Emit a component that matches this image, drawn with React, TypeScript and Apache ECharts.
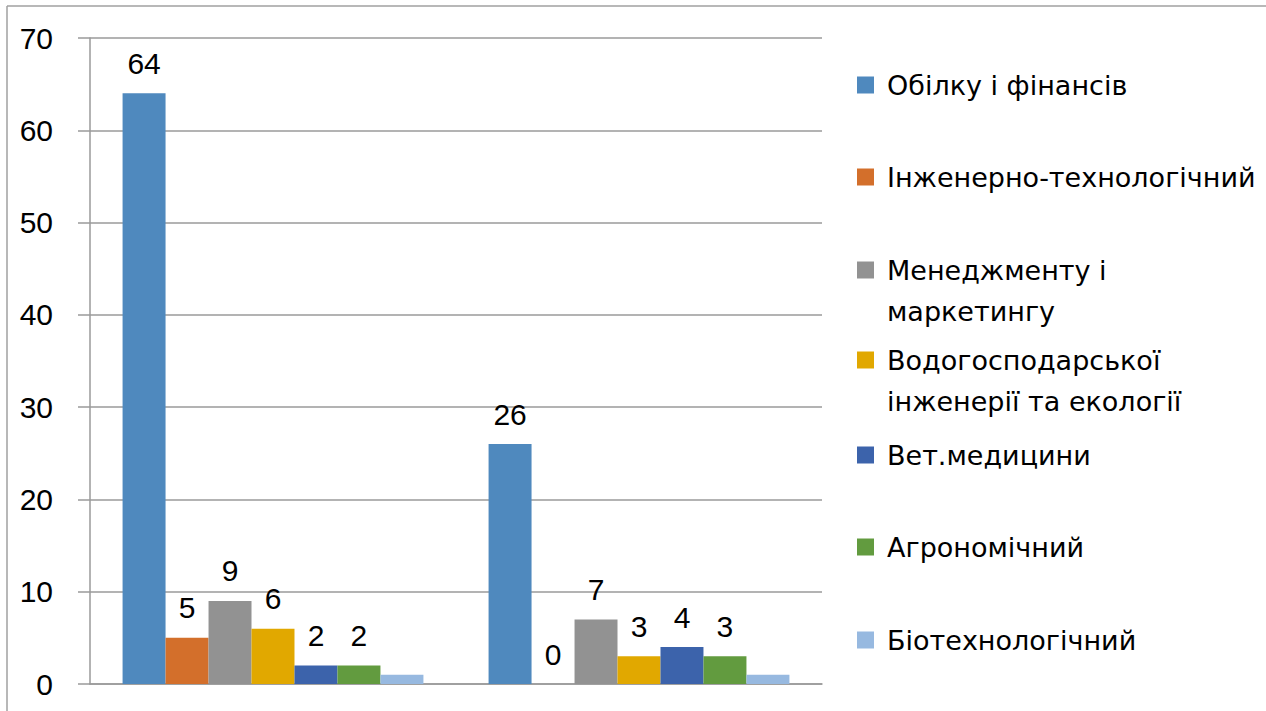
import React, { useEffect, useRef } from "react";
import * as echarts from "echarts";

const categories = ["1", "2"];
const seriesNames = [
  "Обілку і фінансів",
  "Інженерно-технологічний",
  "Менеджменту і\nмаркетингу",
  "Водогосподарської\nінженерії та екології",
  "Вет.медицини",
  "Агрономічний",
  "Біотехнологічний",
];
const seriesValues = [
  [64, 26],
  [5, 0],
  [9, 7],
  [6, 3],
  [2, 4],
  [2, 3],
  [1, 1],
];
const showLabels = [true, true, true, true, true, true, false];
const colors = ["#4F89BE", "#D36F2B", "#929292", "#E1A800", "#3C63AB", "#629B3F", "#97B9E0"];
const yTicks = { min: 0, max: 70, interval: 10 };

const legendCenters = [85, 177, 270, 360, 455, 547, 640];

export default function App() {
  const ref = useRef<HTMLDivElement>(null);
  useEffect(() => {
    if (!ref.current) return;
    const chart = echarts.init(ref.current, null, { renderer: "svg" });
    const LH = 41;
    const legends = seriesNames.map((name, i) => {
      const twoLine = name.includes("\n");
      return {
        show: true,
        data: [name],
        orient: "vertical",
        left: 857,
        top: twoLine ? legendCenters[i] - 1.5 * LH : legendCenters[i] - LH / 2,
        padding: 0,
        itemWidth: 17,
        itemHeight: 17,
        icon: "rect",
        selectedMode: false,
        formatter: (n: string) => (n.includes("\n") ? "\n" + n : n),
        textStyle: {
          fontFamily: "DejaVu Sans",
          fontSize: 27,
          color: "#000",
          lineHeight: LH,
          padding: [0, 0, 0, 8],
        },
      };
    });
    chart.setOption({
      animation: false,
      color: colors,
      grid: { left: 90, right: 444, top: 38, bottom: 27, containLabel: false },
      legend: legends,
      xAxis: {
        type: "category",
        data: categories,
        axisLabel: { show: false },
        axisTick: { show: false },
        axisLine: { show: true, lineStyle: { color: "#9a9a9a", width: 1.5 } },
      },
      yAxis: {
        type: "value",
        min: yTicks.min,
        max: yTicks.max,
        interval: yTicks.interval,
        axisLine: { show: true, lineStyle: { color: "#9a9a9a", width: 1.5 } },
        axisTick: { show: true, length: 12, lineStyle: { color: "#9a9a9a", width: 1.5 } },
        splitLine: { show: true, lineStyle: { color: "#9a9a9a", width: 1.5 } },
        axisLabel: {
          fontFamily: "Liberation Sans",
          fontSize: 30,
          color: "#000",
          margin: 37,
        },
      },
      graphic: [
        { type: "line", shape: { x1: 7, y1: 6, x2: 1266, y2: 6 }, style: { stroke: "#a0a0a0", lineWidth: 1.5 } },
        { type: "line", shape: { x1: 7, y1: 6, x2: 7, y2: 711 }, style: { stroke: "#a0a0a0", lineWidth: 1.5 } },
      ],
      series: seriesNames.map((name, i) => ({
        type: "bar",
        name,
        data: seriesValues[i],
        barGap: "0%",
        barCategoryGap: "17.8%",
        itemStyle: { color: colors[i] },
        label: {
          show: showLabels[i],
          position: "top",
          distance: 15,
          fontFamily: "Liberation Sans",
          fontSize: 30,
          color: "#000",
        },
      })),
    });
    return () => chart.dispose();
  }, []);
  return (
    <div
      ref={ref}
      style={{ position: "absolute", left: 0, top: 0, width: 1266, height: 711, background: "#fff" }}
    />
  );
}
